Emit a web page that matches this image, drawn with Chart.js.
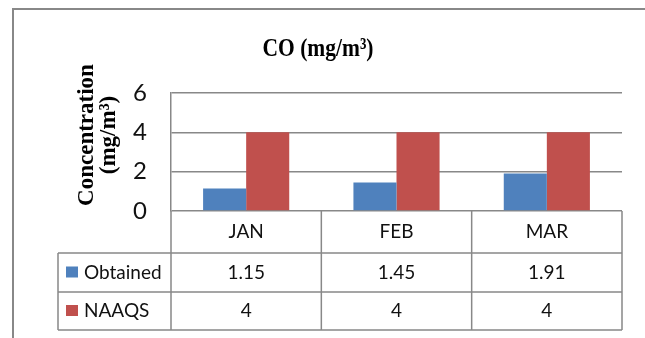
<!DOCTYPE html>
<html>
<head>
<meta charset="utf-8">
<script src="https://cdn.jsdelivr.net/npm/chart.js@4"></script>
<style>
  html, body { margin: 0; padding: 0; background: #fff; }
  #wrap { width: 645px; height: 338px; }
</style>
</head>
<body>
<div id="wrap"><canvas id="grafica" width="645" height="338"></canvas></div>
<script>
// datos
const meses = ['JAN', 'FEB', 'MAR'];
const obtenido = [1.15, 1.45, 1.91];
const naaqs = [4, 4, 4];
const etiquetasTabla = ['1.15', '1.45', '1.91'];
const etiquetasNaaqs = ['4', '4', '4'];
const marcasY = [0, 2, 4, 6];

const azul = '#4F81BD';
const rojo = '#C0504D';
const gris = '#888888';

// marco, titulos y tabla de datos
const extras = {
  id: 'extras',
  afterDraw(chart) {
    const ctx = chart.ctx;
    const x = chart.scales.x;
    const area = chart.chartArea;
    const ancho = x.getPixelForValue(1) - x.getPixelForValue(0);
    const izq = x.getPixelForValue(0) - ancho / 2;
    const der = x.getPixelForValue(meses.length - 1) + ancho / 2;
    const y0 = area.bottom;
    const filas = [y0, y0 + 42, y0 + 81, y0 + 119];
    const leyIzq = 58;

    ctx.save();
    // marco exterior
    ctx.strokeStyle = gris;
    ctx.lineWidth = 2;
    ctx.beginPath();
    ctx.moveTo(13, 338); ctx.lineTo(13, 9); ctx.lineTo(645, 9);
    ctx.stroke();

    // titulo (un poco estrecho, como en el original)
    ctx.fillStyle = '#000';
    ctx.textAlign = 'center';
    ctx.textBaseline = 'alphabetic';
    ctx.font = 'bold 26px "Liberation Serif"';
    const w = ctx.measureText('CO (mg/m³)').width;
    ctx.save();
    ctx.translate(318, 56);
    ctx.scale(111 / w, 1);
    ctx.fillText('CO (mg/m³)', 0, 0);
    ctx.restore();

    // titulo eje y
    ctx.save();
    ctx.translate(0, 135);
    ctx.rotate(-Math.PI / 2);
    ctx.font = 'bold 23px "Liberation Serif"';
    ctx.fillText('Concentration', 0, 93);
    ctx.fillText('(mg/m³)', 0, 115);
    ctx.restore();

    // tabla
    ctx.strokeStyle = gris;
    ctx.lineWidth = 1.5;
    ctx.beginPath();
    for (let i = 1; i < filas.length; i++) {
      ctx.moveTo(leyIzq, filas[i]); ctx.lineTo(der, filas[i]);
    }
    ctx.moveTo(leyIzq, filas[1]); ctx.lineTo(leyIzq, filas[3]);
    for (let i = 0; i <= meses.length; i++) {
      const px = izq + ancho * i;
      ctx.moveTo(px, filas[0]); ctx.lineTo(px, filas[3]);
    }
    ctx.stroke();

    ctx.textBaseline = 'middle';
    ctx.font = '19px Lato';
    ctx.fillStyle = '#111';
    meses.forEach((m, i) => {
      const cx = x.getPixelForValue(i);
      ctx.fillText(m, cx, (filas[0] + filas[1]) / 2);
      ctx.fillText(etiquetasTabla[i], cx, (filas[1] + filas[2]) / 2);
      ctx.fillText(etiquetasNaaqs[i], cx, (filas[2] + filas[3]) / 2);
    });

    // leyenda dentro de la tabla
    const series = [['Obtained', azul], ['NAAQS', rojo]];
    ctx.textAlign = 'left';
    series.forEach((s, i) => {
      const cy = (filas[i + 1] + filas[i + 2]) / 2;
      ctx.fillStyle = s[1];
      ctx.fillRect(66, cy - 6, 12, 11);
      ctx.fillStyle = '#111';
      ctx.fillText(s[0], 84, cy);
    });
    ctx.restore();
  }
};

const ctx = document.getElementById('grafica').getContext('2d');
new Chart(ctx, {
  type: 'bar',
  data: {
    labels: meses,
    datasets: [
      { label: 'Obtained', data: obtenido, backgroundColor: azul },
      { label: 'NAAQS', data: naaqs, backgroundColor: rojo }
    ]
  },
  options: {
    responsive: false,
    animation: false,
    layout: { padding: { top: 93, bottom: 127, right: 23, left: 0 } },
    datasets: { bar: { categoryPercentage: 0.573, barPercentage: 1 } },
    plugins: { legend: { display: false }, title: { display: false }, tooltip: { enabled: false } },
    scales: {
      x: { display: false },
      y: {
        min: 0,
        max: 6,
        afterFit: s => { s.width = 171; },
        afterBuildTicks: s => { s.ticks = marcasY.map(v => ({ value: v })); },
        ticks: { font: { family: 'Lato', size: 24 }, color: '#111', padding: 24 },
        grid: { color: gris, lineWidth: 1.5, drawTicks: false },
        border: { color: gris, width: 1.5 }
      }
    }
  },
  plugins: [extras]
});
</script>
</body>
</html>
